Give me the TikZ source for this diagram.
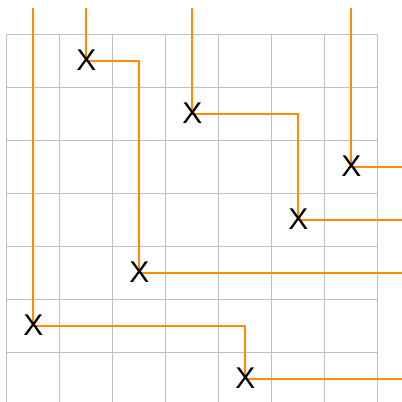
\documentclass[tikz,border=0pt]{standalone}
\usepackage{fontspec}
\setmainfont{Liberation Sans}
\usetikzlibrary{backgrounds}
\definecolor{routeorange}{HTML}{FF8C00}
\definecolor{gridgray}{HTML}{C0C0C0}
\begin{document}
\begin{tikzpicture}[x=53pt,y=-53pt,line join=round,
	crossmark/.style={inner sep=0pt,font=\fontsize{30}{30}\selectfont},
	route/.style={line width=2pt,color=routeorange},
	gridline/.style={line width=1pt,color=gridgray}]
	\useasboundingbox (-0.132,-0.642) rectangle (7.453,6.943);
	% crossings
	\node[crossmark] (x1) at (1.5,0.5) {X};
	\node[crossmark] (x2) at (3.5,1.5) {X};
	\node[crossmark] (x3) at (6.5,2.5) {X};
	\node[crossmark] (x4) at (5.5,3.5) {X};
	\node[crossmark] (x5) at (2.5,4.5) {X};
	\node[crossmark] (x6) at (0.5,5.5) {X};
	\node[crossmark] (x7) at (4.5,6.5) {X};
	% free ends
	\coordinate (t1) at (1.5,-0.49);
	\coordinate (t2) at (3.5,-0.49);
	\coordinate (t3) at (6.5,-0.49);
	\coordinate (t6) at (0.5,-0.49);
	\coordinate (e3) at (7.453,2.5);
	\coordinate (e4) at (7.453,3.5);
	\coordinate (e5) at (7.453,4.5);
	\coordinate (e7) at (7.453,6.5);
	\begin{pgfonlayer}{background}
		\foreach \i in {0,...,7}
			\draw[gridline] (\i,0) -- (\i,6.943);
		\foreach \j in {0,...,6}
			\draw[gridline] (0,\j) -- (7,\j);
		\draw[route] (t6) -- (x6.center) -| (x7.center) -- (e7);
		\draw[route] (t1) -- (x1.center) -| (x5.center) -- (e5);
		\draw[route] (t2) -- (x2.center) -| (x4.center) -- (e4);
		\draw[route] (t3) -- (x3.center) -- (e3);
	\end{pgfonlayer}
\end{tikzpicture}
\end{document}
